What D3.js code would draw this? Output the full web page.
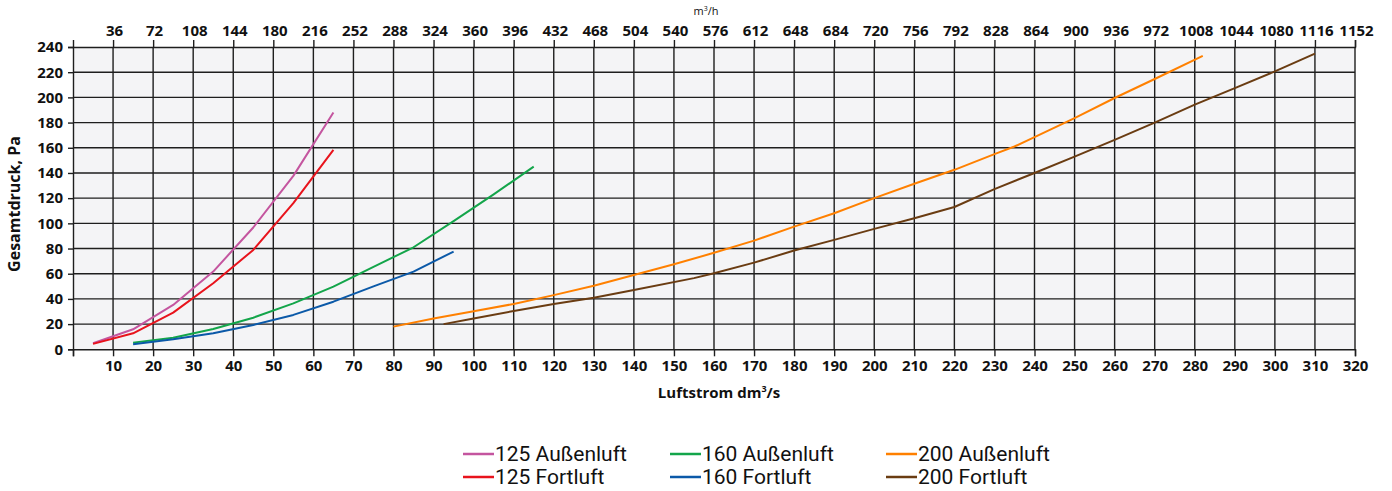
<!DOCTYPE html>
<html>
<head>
<meta charset="utf-8">
<script src="https://cdn.jsdelivr.net/npm/d3@7/dist/d3.min.js"></script>
<style>
  html, body { margin: 0; padding: 0; background: #ffffff; }
  svg { display: block; }
  .tick text { font-family: "Open Sans", sans-serif; font-weight: 700; font-size: 15px; fill: #111; }
  .legend text { font-family: Roboto, "Noto Sans", sans-serif; font-size: 21px; fill: #111; }
</style>
</head>
<body>
<svg id="chart" width="1392" height="491"></svg>
<script>
// Axis ticks
const flowTicks = [10, 20, 30, 40, 50, 60, 70, 80, 90, 100, 110, 120, 130, 140, 150, 160,
  170, 180, 190, 200, 210, 220, 230, 240, 250, 260, 270, 280, 290, 300, 310, 320];
const flowM3hLabels = [36, 72, 108, 144, 180, 216, 252, 288, 324, 360, 396, 432, 468, 504, 540, 576,
  612, 648, 684, 720, 756, 792, 828, 864, 900, 936, 972, 1008, 1044, 1080, 1116, 1152];
const pressureTicks = [0, 20, 40, 60, 80, 100, 120, 140, 160, 180, 200, 220, 240];

// Pressure curves: flow in dm³/s, total pressure in Pa
const flow125 = [5, 15, 25, 35, 45, 55, 65];
const p125Aussen = [4.8, 15.9, 35.2, 61.7, 96.7, 137.7, 188];
const p125Fort = [4.3, 12.7, 29.1, 52.4, 78.9, 116, 158.4];

const flow160Aussen = [15, 25, 35, 45, 55, 65, 75, 85, 95, 105, 115];
const p160Aussen = [5.3, 9.2, 16.1, 25.1, 36.5, 49.8, 65.4, 81, 101.7, 123, 145];
const flow160Fort = [15, 25, 35, 45, 55, 65, 75, 85, 95];
const p160Fort = [4, 7.9, 12.7, 19.3, 27.3, 37.8, 50, 61.7, 77.6];

const flow200Aussen = [80, 90, 100, 110, 120, 130, 140, 150, 160, 170, 180, 190, 200, 210, 220, 230, 235, 240, 250, 260, 270, 282];
const p200Aussen = [18, 24.5, 30.2, 36, 43, 50.5, 59, 67.5, 76.6, 86.3, 97.4, 108, 120, 131.4, 142.5, 155, 161, 168.5, 183.6, 199.5, 214.6, 233];
const flow200Fort = [92.5, 100, 110, 120, 130, 140, 155, 160, 170, 180, 190, 200, 210, 220, 230, 240, 250, 260, 270, 280, 290, 300, 310];
const p200Fort = [20, 24.5, 30.4, 36, 41, 47, 56.5, 60.4, 68.8, 78.4, 86.9, 95.6, 104.1, 113, 127.2, 140, 153, 166.3, 180, 194.2, 207.4, 220.6, 234.7];

const seriesNames = ["125 Außenluft", "125 Fortluft", "160 Außenluft", "160 Fortluft", "200 Außenluft", "200 Fortluft"];
const seriesColors = ["#c4559f", "#e8131c", "#13a54a", "#0b59a8", "#ff8000", "#6a3c12"];
const seriesFlows = [flow125, flow125, flow160Aussen, flow160Fort, flow200Aussen, flow200Fort];
const seriesPressures = [p125Aussen, p125Fort, p160Aussen, p160Fort, p200Aussen, p200Fort];

const svg = d3.select("#chart");
const plotLeft = 73, plotRight = 1355, plotTop = 47, plotBottom = 349.3;

const x = d3.scaleLinear().domain([0, 320]).range([plotLeft, plotRight]);
const y = d3.scaleLinear().domain([0, 240]).range([plotBottom, plotTop]);

// plot background
svg.append("rect")
  .attr("x", plotLeft).attr("y", plotTop)
  .attr("width", plotRight - plotLeft).attr("height", plotBottom - plotTop)
  .attr("fill", "#f4f4f6");

// grid
const grid = svg.append("g").attr("stroke", "#1e1e1e").attr("stroke-width", 1.4);
grid.selectAll("line.v").data(flowTicks.slice(0, -1)).join("line")
  .attr("class", "v")
  .attr("x1", d => x(d)).attr("x2", d => x(d))
  .attr("y1", plotTop).attr("y2", plotBottom);
grid.selectAll("line.h").data(pressureTicks.slice(1, -1)).join("line")
  .attr("class", "h")
  .attr("x1", plotLeft).attr("x2", plotRight)
  .attr("y1", d => y(d)).attr("y2", d => y(d));

// axes
const m3hByFlow = new Map(flowTicks.map((d, i) => [d, flowM3hLabels[i]]));

const bottomAxis = svg.append("g")
  .attr("transform", `translate(0,${plotBottom})`)
  .call(d3.axisBottom(x).tickValues([0].concat(flowTicks)).tickSize(7).tickPadding(4)
    .tickFormat(d => d === 0 ? "" : d));
const topAxis = svg.append("g")
  .attr("transform", `translate(0,${plotTop})`)
  .call(d3.axisTop(x).tickValues(flowTicks).tickSize(7).tickPadding(4)
    .tickFormat(d => m3hByFlow.get(d)));
const leftAxis = svg.append("g")
  .attr("transform", `translate(${plotLeft},0)`)
  .call(d3.axisLeft(y).tickValues(pressureTicks).tickSize(5).tickPadding(5));

[bottomAxis, topAxis, leftAxis].forEach(a => {
  a.select(".domain").attr("stroke", "#1e1e1e").attr("stroke-width", 1.4);
  a.selectAll(".tick line").attr("stroke", "#1e1e1e").attr("stroke-width", 1.4);
  a.attr("font-family", null).attr("font-size", null);
});
topAxis.selectAll(".tick text").attr("dx", "1");

// right border
svg.append("line")
  .attr("x1", plotRight).attr("x2", plotRight).attr("y1", plotTop).attr("y2", plotBottom)
  .attr("stroke", "#1e1e1e").attr("stroke-width", 1.4);

// curves
const line = d3.line().x(d => x(d[0])).y(d => y(d[1]));
const curves = svg.append("g").attr("fill", "none").attr("stroke-width", 2)
  .attr("stroke-linejoin", "round");
seriesNames.forEach((name, i) => {
  const pts = seriesFlows[i].map((q, j) => [q, seriesPressures[i][j]]);
  curves.append("path").attr("d", line(pts)).attr("stroke", seriesColors[i]);
});

// axis titles
svg.append("text")
  .attr("x", 719).attr("y", 398)
  .attr("text-anchor", "middle")
  .attr("font-family", "'Open Sans', sans-serif").attr("font-weight", 700).attr("font-size", 15)
  .attr("fill", "#111")
  .html('Luftstrom dm<tspan dy="-6" font-size="9">3</tspan><tspan dy="6">/s</tspan>');

svg.append("text")
  .attr("transform", "translate(20,204) rotate(-90)")
  .attr("text-anchor", "middle")
  .attr("font-family", "'Open Sans', sans-serif").attr("font-weight", 700).attr("font-size", 16)
  .attr("fill", "#111")
  .text("Gesamtdruck, Pa");

svg.append("text")
  .attr("x", 706).attr("y", 15)
  .attr("text-anchor", "middle")
  .attr("font-family", "'Open Sans', sans-serif").attr("font-size", 11)
  .attr("fill", "#111")
  .html('m<tspan dy="-4" font-size="7">3</tspan><tspan dy="4">/h</tspan>');

// legend: three columns, two rows
const legendCols = [463, 670, 886];
const legendRows = [454, 477];
const legend = svg.append("g").attr("class", "legend");
seriesNames.forEach((name, i) => {
  const cx = legendCols[Math.floor(i / 2)];
  const cy = legendRows[i % 2];
  legend.append("line")
    .attr("x1", cx).attr("x2", cx + 31)
    .attr("y1", cy).attr("y2", cy)
    .attr("stroke", seriesColors[i]).attr("stroke-width", 2.5);
  legend.append("text")
    .attr("x", cx + 32).attr("y", cy + 7)
    .text(name);
});
</script>
</body>
</html>
